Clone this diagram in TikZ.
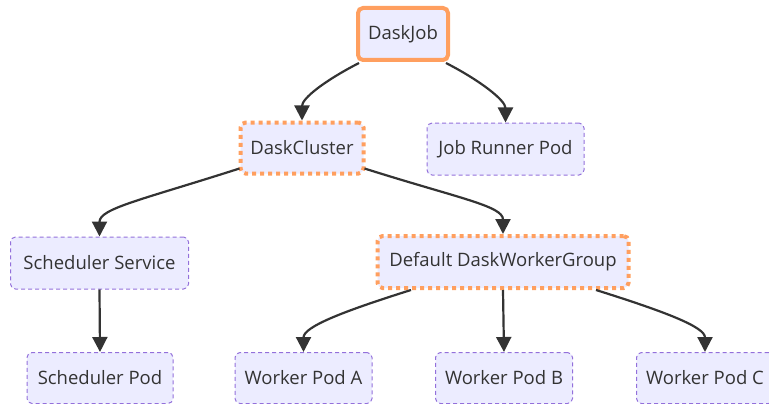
\documentclass[tikz,border=0pt]{standalone}
\usepackage{fontspec}
\setmainfont{Open Sans}
\usetikzlibrary{arrows.meta}
\definecolor{boxfill}{HTML}{ECECFF}
\definecolor{podline}{HTML}{9370DB}
\definecolor{crdline}{HTML}{FF9F5F}
\definecolor{txt}{HTML}{333333}
\definecolor{edge}{HTML}{333333}
\tikzset{
  base/.style={rounded corners=5pt, fill=boxfill, text=txt, font=\fontsize{18.5}{21}\selectfont,
    inner sep=0pt, anchor=center},
  pod/.style={base, draw=podline, line width=1pt, dash pattern=on 4pt off 3pt},
  crd/.style={base, draw=crdline, line width=4pt, dash pattern=on 4pt off 4pt},
  job/.style={base, draw=crdline, line width=4pt},
  link/.style={draw=edge, line width=2.2pt, -{Triangle[length=15pt,width=15pt]}},
}
\begin{document}
\begin{tikzpicture}[x=1pt, y=-1pt]
\useasboundingbox (0,0) rectangle (769,404);

\node[job, minimum width=90pt, minimum height=52pt] (job) at (403,34) {DaskJob};
\node[crd, minimum width=123pt, minimum height=51pt] (cluster) at (302,148) {DaskCluster};
\node[pod, minimum width=157pt, minimum height=52pt] (runner) at (505.5,149) {Job Runner Pod};
\node[pod, minimum width=178pt, minimum height=52pt] (svc) at (99.5,263) {Scheduler Service};
\node[crd, minimum width=251pt, minimum height=52pt] (group) at (503,262) {Default DaskWorkerGroup};
\node[pod, minimum width=146pt, minimum height=51pt] (spod) at (100,378) {Scheduler Pod};
\node[pod, minimum width=137pt, minimum height=51pt] (wa) at (303.5,378) {Worker Pod A};
\node[pod, minimum width=137pt, minimum height=51pt] (wb) at (504,378) {Worker Pod B};
\node[pod, minimum width=137pt, minimum height=51pt] (wc) at (705,378) {Worker Pod C};

% DaskJob children
\draw[link] ([xshift=-44pt,yshift=-1pt]job.south) .. controls +(-35,18) and +(0,-22) .. (cluster.north);
\draw[link] ([xshift=43pt,yshift=-1pt]job.south) .. controls +(35,18) and +(0,-22) .. (runner.north);

% DaskCluster children
\draw[link] ([xshift=1pt,yshift=7pt]cluster.south west) .. controls +(-100,32) and +(0,-28) .. (svc.north);
\draw[link] ([xshift=-1pt,yshift=7pt]cluster.south east) .. controls +(95,30) and +(0,-28) .. (group.north);

% Scheduler Service child
\draw[link] (svc.south) -- (spod.north);

% Worker group children
\draw[link] ([xshift=-92pt]group.south) .. controls +(-70,22) and +(0,-25) .. (wa.north);
\draw[link] (group.south) -- (wb.north);
\draw[link] ([xshift=93pt]group.south) .. controls +(70,22) and +(0,-25) .. (wc.north);
\end{tikzpicture}
\end{document}
